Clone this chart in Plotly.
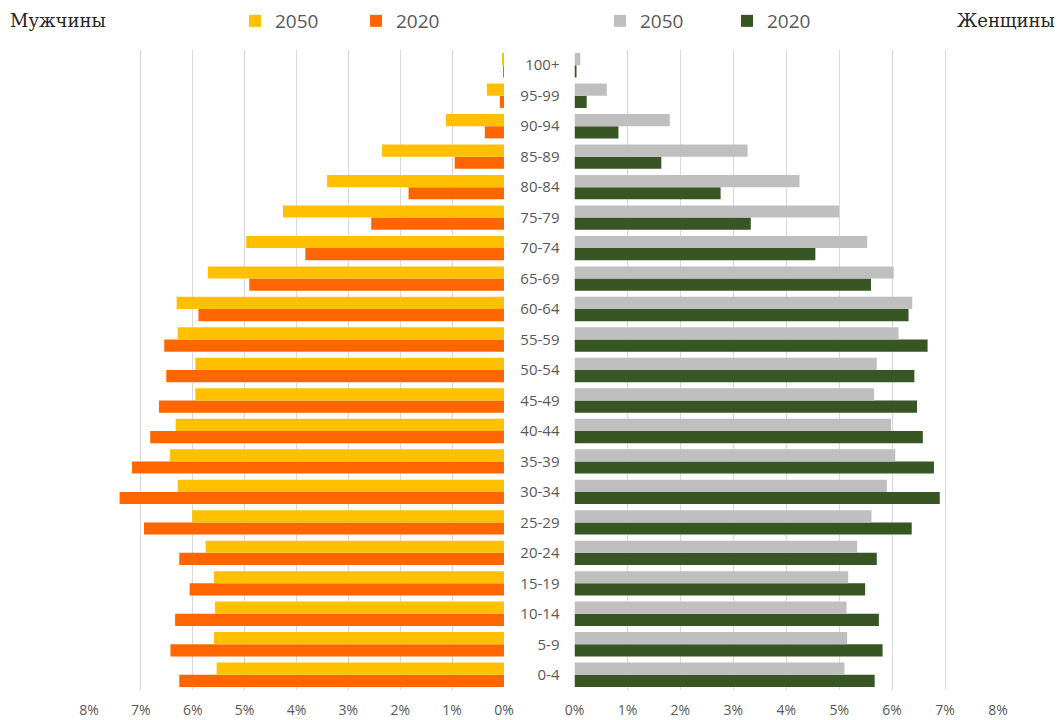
import plotly.graph_objects as go

# Age groups, bottom to top
ages = ["0-4", "5-9", "10-14", "15-19", "20-24", "25-29", "30-34", "35-39",
        "40-44", "45-49", "50-54", "55-59", "60-64", "65-69", "70-74",
        "75-79", "80-84", "85-89", "90-94", "95-99", "100+"]

# Men, % of population
men_2050 = [5.54, 5.59, 5.57, 5.59, 5.75, 6.01, 6.29, 6.44, 6.33, 5.95, 5.95,
            6.29, 6.31, 5.71, 4.97, 4.26, 3.41, 2.35, 1.12, 0.33, 0.04]
men_2020 = [6.26, 6.43, 6.34, 6.06, 6.26, 6.94, 7.41, 7.17, 6.82, 6.65, 6.51,
            6.55, 5.89, 4.91, 3.83, 2.56, 1.84, 0.95, 0.37, 0.08, 0.01]

# Women, % of population
women_2050 = [5.10, 5.15, 5.14, 5.17, 5.34, 5.61, 5.90, 6.06, 5.98, 5.66, 5.71,
              6.12, 6.38, 6.03, 5.53, 5.00, 4.25, 3.27, 1.80, 0.61, 0.11]
women_2020 = [5.67, 5.82, 5.75, 5.49, 5.71, 6.37, 6.90, 6.79, 6.58, 6.47, 6.42,
              6.67, 6.31, 5.60, 4.55, 3.33, 2.76, 1.64, 0.83, 0.23, 0.03]

tick_vals = [0, 1, 2, 3, 4, 5, 6, 7, 8]
tick_text = ["0%", "1%", "2%", "3%", "4%", "5%", "6%", "7%", "8%"]

YELLOW = "#FFC000"
ORANGE = "#FF6600"
GRAY = "#BFBFBF"
GREEN = "#375623"
TXT = "#595959"

W, H = 1060, 720
T, B = 50, 30

fig = go.Figure()

# Men (left)
fig.add_trace(go.Bar(y=ages, x=men_2020, orientation="h", name="2020",
                     marker=dict(color=ORANGE, line=dict(width=0)),
                     xaxis="x", yaxis="y", legend="legend", legendrank=2))
fig.add_trace(go.Bar(y=ages, x=men_2050, orientation="h", name="2050",
                     marker=dict(color=YELLOW, line=dict(width=0)),
                     xaxis="x", yaxis="y", legend="legend", legendrank=1))
# Women (right)
fig.add_trace(go.Bar(y=ages, x=women_2020, orientation="h", name="2020",
                     marker=dict(color=GREEN, line=dict(width=0)),
                     xaxis="x2", yaxis="y", legend="legend2", legendrank=2))
fig.add_trace(go.Bar(y=ages, x=women_2050, orientation="h", name="2050",
                     marker=dict(color=GRAY, line=dict(width=0)),
                     xaxis="x2", yaxis="y", legend="legend2", legendrank=1))

axis_common = dict(
    tickvals=tick_vals, ticktext=tick_text,
    showgrid=True, gridcolor="#D9D9D9", gridwidth=1,
    zeroline=False, showline=False, ticks="",
    tickfont=dict(family="Open Sans", size=14, color=TXT),
    ticklabelstandoff=10, fixedrange=True, automargin=False,
)

def py(pix):
    """pixel y (from top) -> paper y"""
    return 1 + (T - pix) / (H - T - B)

legend_common = dict(
    orientation="h", xref="container", yref="container",
    xanchor="left", yanchor="middle", y=1 - 21 / H,
    font=dict(family="Open Sans", size=19, color=TXT),
    entrywidthmode="pixels",
    bgcolor="rgba(0,0,0,0)", borderwidth=0, traceorder="normal",
)

fig.update_layout(
    width=W, height=H,
    margin=dict(l=0, r=0, t=T, b=B, pad=0, autoexpand=False),
    paper_bgcolor="white", plot_bgcolor="white",
    barmode="group", bargap=0.2, bargroupgap=0.0,
    xaxis=dict(domain=[89 / W, 504 / W], range=[8, 0], anchor="y", **axis_common),
    xaxis2=dict(domain=[574.5 / W, 998 / W], range=[0, 8], anchor="y", **axis_common),
    yaxis=dict(anchor="x2", side="left", showgrid=False, zeroline=False,
               showline=False, ticks="", automargin=False,
               tickfont=dict(family="Open Sans", size=15, color=TXT),
               ticklabelstandoff=14, fixedrange=True),
    legend=dict(x=235 / W, entrywidth=76, **legend_common),
    legend2=dict(x=600 / W, entrywidth=82, **legend_common),
    showlegend=True,
    annotations=[
        dict(text="Мужчины", xref="paper", yref="paper", x=8 / W, y=py(21),
             xanchor="left", yanchor="middle", showarrow=False,
             font=dict(family="DejaVu Serif", size=18, color="#262626")),
        dict(text="Женщины", xref="paper", yref="paper", x=1057 / W, y=py(21),
             xanchor="right", yanchor="middle", showarrow=False,
             font=dict(family="DejaVu Serif", size=18, color="#262626")),
    ],
)

fig.write_html("out.html",
               config={"displayModeBar": False},
               post_script="document.body.style.margin='0px';document.body.style.overflow='hidden';")
